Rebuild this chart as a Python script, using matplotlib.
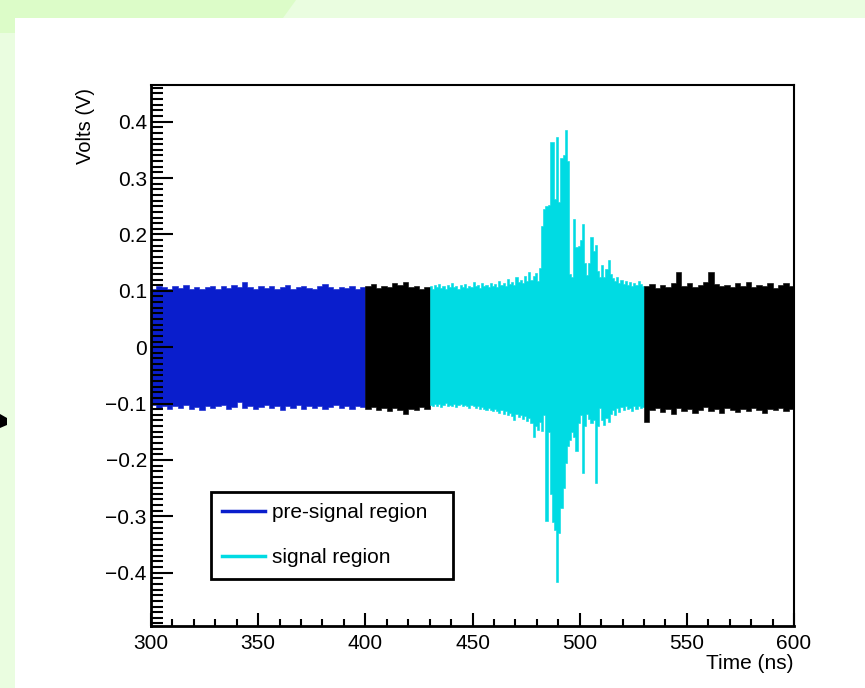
import numpy as np
import matplotlib
matplotlib.use("Agg")
import matplotlib.pyplot as plt
from matplotlib.lines import Line2D
from matplotlib.patches import Polygon, Rectangle

plt.rcParams['font.family'] = ['Liberation Sans', 'DejaVu Sans']

# ----------------------------
# Data: envelope of the sampled waveform (upper / lower edge), read off the picture
# ----------------------------
# pre-signal region, 300-400 ns, 2.5 ns bins
pre_t0, pre_t1, pre_dt = 300, 400, 2.5
pre_hi = [0.104, 0.109, 0.106, 0.103, 0.108, 0.105, 0.110, 0.104, 0.107, 0.103,
          0.106, 0.109, 0.104, 0.108, 0.105, 0.111, 0.106, 0.116, 0.107, 0.104,
          0.109, 0.105, 0.108, 0.103, 0.107, 0.110, 0.104, 0.106, 0.109, 0.105,
          0.103, 0.108, 0.112, 0.106, 0.104, 0.107, 0.105, 0.109, 0.104, 0.106]
pre_lo = [-0.103, -0.108, -0.105, -0.110, -0.104, -0.107, -0.103, -0.109, -0.106, -0.112,
          -0.104, -0.108, -0.105, -0.103, -0.109, -0.106, -0.097, -0.108, -0.104, -0.110,
          -0.106, -0.103, -0.108, -0.105, -0.111, -0.104, -0.107, -0.103, -0.109, -0.105,
          -0.108, -0.104, -0.110, -0.106, -0.103, -0.108, -0.105, -0.109, -0.104, -0.106]

# gap between the regions, 400-430 ns
gap_t0, gap_t1, gap_dt = 400, 430, 2.5
gap_hi = [0.108, 0.112, 0.105, 0.109, 0.107, 0.113, 0.110, 0.116, 0.106, 0.109, 0.104, 0.107]
gap_lo = [-0.110, -0.106, -0.112, -0.108, -0.114, -0.107, -0.111, -0.118, -0.109, -0.112, -0.106, -0.110]

# signal region, 430-530 ns, 1 ns bins
sig_t0, sig_t1, sig_dt = 430, 530, 1.0
sig_hi = [0.108, 0.104, 0.110, 0.106, 0.112, 0.105, 0.109, 0.103, 0.111, 0.107,
          0.113, 0.106, 0.109, 0.104, 0.110, 0.107, 0.112, 0.105, 0.109, 0.106,
          0.116, 0.108, 0.111, 0.105, 0.113, 0.108, 0.110, 0.106, 0.114, 0.109,
          0.112, 0.107, 0.118, 0.110, 0.113, 0.108, 0.121, 0.112, 0.116, 0.110,
          0.124, 0.115, 0.120, 0.113, 0.127, 0.118, 0.134, 0.120, 0.126, 0.131,
          0.118, 0.140, 0.215, 0.245, 0.250, 0.252, 0.364, 0.364, 0.262, 0.373,
          0.258, 0.335, 0.340, 0.386, 0.330, 0.130, 0.125, 0.227, 0.178, 0.180,
          0.190, 0.218, 0.150, 0.128, 0.150, 0.196, 0.170, 0.181, 0.135, 0.125,
          0.146, 0.125, 0.138, 0.155, 0.130, 0.122, 0.118, 0.125, 0.113, 0.120,
          0.112, 0.118, 0.110, 0.116, 0.108, 0.114, 0.110, 0.117, 0.112, 0.108]
sig_lo = [-0.102, -0.105, -0.100, -0.104, -0.101, -0.106, -0.103, -0.099, -0.105, -0.102,
          -0.104, -0.100, -0.106, -0.103, -0.101, -0.105, -0.102, -0.104, -0.107, -0.103,
          -0.105, -0.108, -0.104, -0.110, -0.106, -0.109, -0.112, -0.107, -0.111, -0.114,
          -0.109, -0.113, -0.116, -0.111, -0.118, -0.114, -0.120, -0.116, -0.122, -0.129,
          -0.118, -0.124, -0.120, -0.127, -0.122, -0.131, -0.125, -0.135, -0.159, -0.140,
          -0.147, -0.132, -0.148, -0.120, -0.309, -0.150, -0.260, -0.310, -0.325, -0.416,
          -0.330, -0.285, -0.250, -0.205, -0.175, -0.165, -0.150, -0.160, -0.185, -0.135,
          -0.120, -0.224, -0.140, -0.118, -0.128, -0.135, -0.130, -0.241, -0.140, -0.108,
          -0.130, -0.138, -0.125, -0.132, -0.118, -0.112, -0.120, -0.108, -0.115, -0.106,
          -0.112, -0.104, -0.110, -0.107, -0.113, -0.105, -0.110, -0.104, -0.108, -0.106]

# after the signal, 530-600 ns
post_t0, post_t1, post_dt = 530, 600, 2.5
post_hi = [0.108, 0.112, 0.105, 0.110, 0.107, 0.114, 0.133, 0.109, 0.113, 0.106,
           0.111, 0.115, 0.133, 0.112, 0.108, 0.110, 0.107, 0.113, 0.109, 0.116,
           0.106, 0.111, 0.108, 0.114, 0.105, 0.110, 0.113, 0.108]
post_lo = [-0.132, -0.112, -0.108, -0.115, -0.110, -0.118, -0.107, -0.113, -0.109, -0.116,
           -0.111, -0.106, -0.114, -0.110, -0.117, -0.108, -0.112, -0.115, -0.109, -0.113,
           -0.107, -0.111, -0.116, -0.109, -0.112, -0.108, -0.114, -0.110]

x_ticks = [300, 350, 400, 450, 500, 550, 600]
y_ticks = [-0.4, -0.3, -0.2, -0.1, 0.0, 0.1, 0.2, 0.3, 0.4]
y_tick_labels = ['\u22120.4', '\u22120.3', '\u22120.2', '\u22120.1', '0', '0.1', '0.2', '0.3', '0.4']

# ----------------------------
# Colours
# ----------------------------
c_pre = '#0a1ecc'
c_sig = '#00dbe3'
c_other = 'black'

W, H = 865, 688

def px(x, y):
    return (x / W, 1 - y / H)

# ----------------------------
# Figure + slide background
# ----------------------------
fig = plt.figure(figsize=(8.65, 6.88), dpi=100)
fig.patch.set_facecolor('#eafde0')
fig.patches.append(Polygon([px(0, 0), px(296, 0), px(283, 18), px(15, 18), px(15, 33), px(0, 33)],
                           closed=True, transform=fig.transFigure, facecolor='#dcfcc8',
                           edgecolor='none', zorder=-3))
fig.patches.append(Rectangle(px(15, 688), (W - 15) / W, (688 - 18) / H, transform=fig.transFigure,
                             facecolor='white', edgecolor='none', zorder=-2))
fig.patches.append(Polygon([px(0, 414), px(7, 418), px(7, 425), px(0, 428)], closed=True,
                           transform=fig.transFigure, facecolor='black', edgecolor='none', zorder=-1))

ax = fig.add_axes([151 / W, 1 - 626 / H, 643 / W, 541 / H])
ax.set_zorder(1)

# ----------------------------
# Waveform bands
# ----------------------------
def band(t0, t1, dt, hi, lo, color):
    edges = np.arange(t0, t1 + dt / 2, dt)
    hi = np.append(hi, hi[-1])
    lo = np.append(lo, lo[-1])
    ax.fill_between(edges, lo, hi, step='post', facecolor=color, edgecolor=color, linewidth=0.4)

band(pre_t0, pre_t1, pre_dt, pre_hi, pre_lo, c_pre)
band(gap_t0, gap_t1, gap_dt, gap_hi, gap_lo, c_other)
band(sig_t0, sig_t1, sig_dt, sig_hi, sig_lo, c_sig)
band(post_t0, post_t1, post_dt, post_hi, post_lo, c_other)

# ----------------------------
# Axes (ROOT look)
# ----------------------------
ax.set_xlim(300, 600)
ax.set_ylim(-0.4945, 0.465)
ax.set_xticks(x_ticks)
ax.set_xticks(np.arange(300, 601, 10), minor=True)
ax.set_yticks(y_ticks)
ax.set_yticklabels(y_tick_labels)
ax.set_yticks(np.arange(-0.49, 0.465, 0.01), minor=True)

ax.tick_params(axis='both', which='both', direction='in', top=False, right=False,
               labelsize=15, width=1.5, color='black')
ax.tick_params(axis='x', which='major', length=9.5, pad=6)
ax.tick_params(axis='x', which='minor', length=5)
ax.tick_params(axis='y', which='major', length=16, pad=3)
ax.tick_params(axis='y', which='minor', length=8.5)

for s in ['left', 'bottom']:
    ax.spines[s].set_linewidth(2)
for s in ['top', 'right']:
    ax.spines[s].set_linewidth(1.5)

ax.text(-0.102, 0.995, 'Volts (V)', rotation=90, ha='center', va='top',
        fontsize=14.5, transform=ax.transAxes)
ax.text(1.0, -0.07, 'Time (ns)', ha='right', va='center',
        fontsize=15, transform=ax.transAxes)

handles = [Line2D([], [], color=c_pre, lw=2.5), Line2D([], [], color=c_sig, lw=2.5)]
leg = ax.legend(handles, ['pre-signal region', 'signal region'],
                loc='lower left', bbox_to_anchor=(0.093, 0.087, 0.377, 0.164), mode='expand',
                borderaxespad=0, fontsize=15, frameon=True, fancybox=False,
                handlelength=2.05, handletextpad=0.33, labelspacing=1.25, borderpad=0.55)
leg.get_frame().set_edgecolor('black')
leg.get_frame().set_linewidth(2)
leg.get_frame().set_alpha(1)

fig.savefig('out.png', dpi=100, facecolor=fig.get_facecolor())
